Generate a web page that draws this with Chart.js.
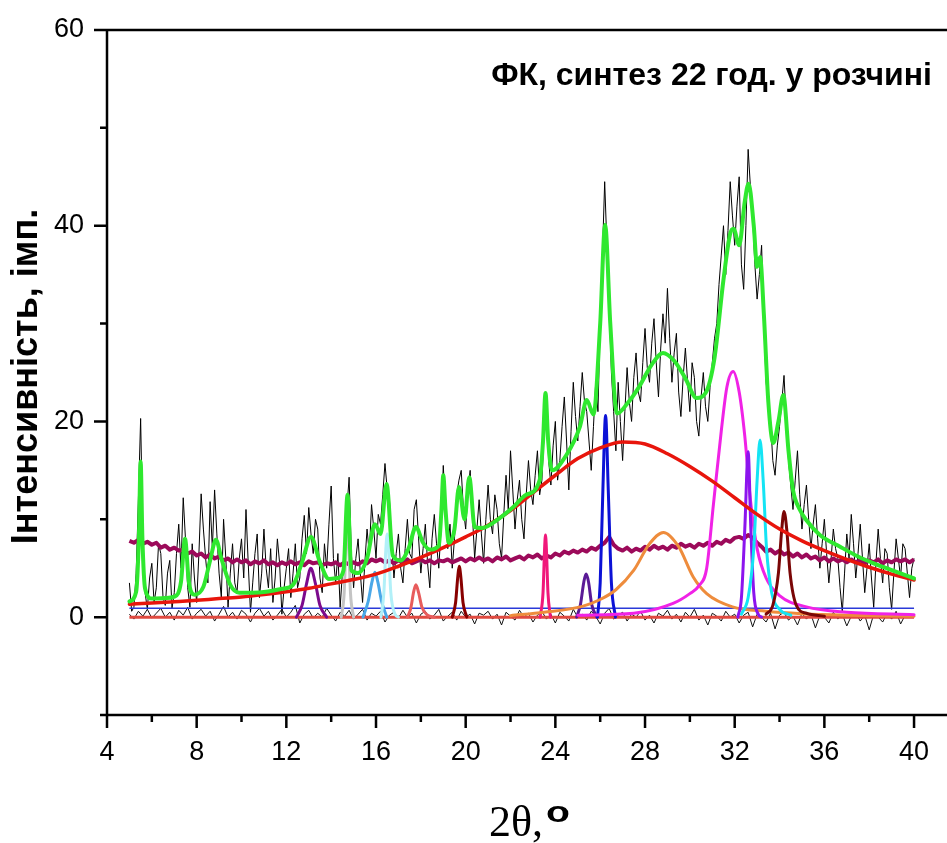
<!DOCTYPE html>
<html>
<head>
<meta charset="utf-8">
<title>ФК, синтез 22 год. у розчині</title>
<script src="https://cdn.jsdelivr.net/npm/chart.js@4.4.1/dist/chart.umd.min.js"></script>
<style>
  html, body { margin: 0; padding: 0; background: #fff; }
  #wrap { width: 947px; height: 843px; }
</style>
</head>
<body>
<div id="wrap"><canvas id="xrdChart" width="947" height="843"></canvas></div>
<script>
// axis ticks
const xTickValues = [4, 8, 12, 16, 20, 24, 28, 32, 36, 40];
const xMinorTicks = [6, 10, 14, 18, 22, 26, 30, 34, 38];
const yTickValues = [0, 20, 40, 60];
const yMinorTicks = [-10, 10, 30, 50];

// texts
const annotationText = 'ФК, синтез 22 год. у розчині';
const yTitle = 'Інтенсивність, імп.';
const xTitleMain = '2θ,';
const xTitleSup = 'o';

// measured pattern, 0.1° step
const rawFineAngles = [
  5.0, 5.1, 5.2, 5.3, 5.4, 5.5, 5.6, 5.7, 5.8, 5.9, 6.0, 6.1, 6.2, 6.3, 6.4, 6.5, 6.6, 6.7, 6.8, 6.9,
  7.0, 7.1, 7.2, 7.3, 7.4, 7.5, 7.6, 7.7, 7.8, 7.9, 8.0, 8.1, 8.2, 8.3, 8.4, 8.5, 8.6, 8.7, 8.8, 8.9,
  9.0, 9.1, 9.2, 9.3, 9.4, 9.5, 9.6, 9.7, 9.8, 9.9, 10.0, 10.1, 10.2, 10.3, 10.4, 10.5, 10.6, 10.7, 10.8, 10.9,
  11.0, 11.1, 11.2, 11.3, 11.4, 11.5, 11.6, 11.7, 11.8, 11.9, 12.0, 12.1, 12.2, 12.3, 12.4, 12.5, 12.6, 12.7, 12.8, 12.9,
  13.0, 13.1, 13.2, 13.3, 13.4, 13.5, 13.6, 13.7, 13.8, 13.9, 14.0, 14.1, 14.2, 14.3, 14.4, 14.5, 14.6, 14.7, 14.8, 14.9,
  15.0, 15.1, 15.2, 15.3, 15.4, 15.5, 15.6, 15.7, 15.8, 15.9, 16.0, 16.1, 16.2, 16.3, 16.4, 16.5, 16.6, 16.7, 16.8, 16.9,
  17.0, 17.1, 17.2, 17.3, 17.4, 17.5, 17.6, 17.7, 17.8, 17.9, 18.0, 18.1, 18.2, 18.3, 18.4, 18.5, 18.6, 18.7, 18.8, 18.9,
  19.0, 19.1, 19.2, 19.3, 19.4, 19.5, 19.6, 19.7, 19.8, 19.9, 20.0, 20.1, 20.2, 20.3, 20.4, 20.5, 20.6, 20.7, 20.8, 20.9,
  21.0, 21.1, 21.2, 21.3, 21.4, 21.5, 21.6, 21.7, 21.8, 21.9, 22.0, 22.1, 22.2, 22.3, 22.4, 22.5, 22.6, 22.7, 22.8, 22.9,
  23.0, 23.1, 23.2, 23.3, 23.4, 23.5, 23.6, 23.7, 23.8, 23.9, 24.0, 24.1, 24.2, 24.3, 24.4, 24.5, 24.6, 24.7, 24.8, 24.9,
  25.0, 25.1, 25.2, 25.3, 25.4, 25.5, 25.6, 25.7, 25.8, 25.9, 26.0, 26.1, 26.2, 26.3, 26.4, 26.5, 26.6, 26.7, 26.8, 26.9,
  27.0, 27.1, 27.2, 27.3, 27.4, 27.5, 27.6, 27.7, 27.8, 27.9, 28.0, 28.1, 28.2, 28.3, 28.4, 28.5, 28.6, 28.7, 28.8, 28.9,
  29.0, 29.1, 29.2, 29.3, 29.4, 29.5, 29.6, 29.7, 29.8, 29.9, 30.0, 30.1, 30.2, 30.3, 30.4, 30.5, 30.6, 30.7, 30.8, 30.9,
  31.0, 31.1, 31.2, 31.3, 31.4, 31.5, 31.6, 31.7, 31.8, 31.9, 32.0, 32.1, 32.2, 32.3, 32.4, 32.5, 32.6, 32.7, 32.8, 32.9,
  33.0, 33.1, 33.2, 33.3, 33.4, 33.5, 33.6, 33.7, 33.8, 33.9, 34.0, 34.1, 34.2, 34.3, 34.4, 34.5, 34.6, 34.7, 34.8, 34.9,
  35.0, 35.1, 35.2, 35.3, 35.4, 35.5, 35.6, 35.7, 35.8, 35.9, 36.0, 36.1, 36.2, 36.3, 36.4, 36.5, 36.6, 36.7, 36.8, 36.9,
  37.0, 37.1, 37.2, 37.3, 37.4, 37.5, 37.6, 37.7, 37.8, 37.9, 38.0, 38.1, 38.2, 38.3, 38.4, 38.5, 38.6, 38.7, 38.8, 38.9,
  39.0, 39.1, 39.2, 39.3, 39.4, 39.5, 39.6, 39.7, 39.8, 39.9, 40.0
];
const rawIntensity = [
  3.5, 0.6, 1.0, 4.5, 12.0, 20.3, 8.0, 2.5, 0.8, 4.0, 5.5, 1.5, 3.0, 7.5, 6.5, 2.0, 1.2, 4.5, 5.8, 0.9,
  2.5, 6.5, 9.5, 5.0, 12.2, 8.0, 3.0, 1.0, 7.5, 4.0, 1.5, 6.5, 12.6, 9.0, 6.0, 3.5, 11.8, 7.0, 13.0, 8.5,
  4.5, 2.0, 10.0, 6.0, 1.0, 4.5, 7.5, 3.5, 2.5, 6.0, 8.0, 4.0, 11.0, 5.5, 0.5, 3.5, 6.5, 8.5, 2.0, 4.5,
  9.0, 5.0, 3.0, 7.0, 1.5, 4.0, 8.0, 5.5, 0.3, 3.0, 5.0, 7.0, 2.0, 4.5, 7.5, 3.0, 4.0, 8.0, 10.4, 6.5,
  11.2, 8.5, 6.5, 10.0, 9.0, 4.0, 2.5, 7.5, 5.0, 9.5, 13.4, 6.0, 3.5, 6.5, 1.0, 4.5, 7.0, 11.0, 14.3, 6.5,
  3.0, 6.0, 8.0, 4.5, 1.5, 5.5, 9.0, 6.5, 11.5, 9.0, 6.0, 10.5, 9.5, 12.5, 15.7, 13.0, 12.0, 7.5, 4.0, 6.5,
  8.5, 5.0, 3.5, 7.0, 10.0, 6.5, 6.0, 11.0, 12.0, 8.0, 4.5, 7.0, 9.5, 5.5, 3.0, 8.0, 10.5, 7.5, 5.0, 9.0,
  15.5, 11.0, 7.0, 9.5, 5.0, 8.0, 12.5, 14.0, 15.0, 11.0, 9.0, 13.0, 15.0, 10.5, 6.0, 9.0, 12.0, 8.5, 5.5, 10.0,
  13.5, 10.0, 8.5, 12.5, 11.0, 7.5, 6.0, 10.5, 14.5, 11.0, 17.0, 13.0, 9.0, 12.0, 14.0, 10.0, 8.0, 12.5, 16.0, 13.0,
  11.5, 14.5, 17.0, 12.5, 14.0, 19.0, 22.5, 16.0, 13.5, 17.5, 20.0, 14.0, 16.0, 19.5, 22.5, 18.0, 13.0, 19.0, 24.0, 20.5,
  18.0, 21.5, 25.0, 22.0, 21.0, 18.0, 15.0, 19.5, 24.0, 21.0, 30.0, 37.0, 44.5, 38.0, 32.0, 25.0, 21.0, 17.0, 24.0, 20.0,
  16.0, 21.0, 25.5, 22.0, 20.0, 24.5, 27.0, 23.0, 22.0, 26.0, 29.5, 25.5, 24.0, 28.0, 30.5, 26.0, 22.5, 27.5, 31.0, 28.0,
  33.6, 28.5, 24.0, 27.0, 29.0, 23.0, 20.5, 24.5, 27.5, 24.0, 21.0, 26.0, 24.5, 20.0, 18.5, 22.5, 25.0, 21.5, 20.0, 23.5,
  26.0, 28.5, 30.0, 34.0, 37.0, 40.0, 35.0, 39.5, 44.5, 41.0, 38.0, 42.0, 45.0, 36.0, 33.5, 40.0, 47.8, 44.0, 41.0, 36.0,
  32.5, 35.0, 38.0, 30.0, 24.0, 22.0, 20.0, 16.0, 14.5, 17.5, 19.5, 22.0, 24.7, 20.0, 16.0, 13.5, 11.0, 14.0, 17.0, 12.5,
  9.0, 11.5, 13.5, 10.0, 7.0, 9.5, 11.5, 8.0, 5.0, 7.5, 10.0, 6.5, 3.5, 6.0, 9.0, 7.0, 6.0, 3.0, 0.5, 4.5,
  8.5, 6.0, 10.5, 7.5, 4.0, 6.5, 9.5, 6.0, 2.5, 5.0, 7.5, 4.0, 1.0, 5.5, 9.0, 6.0, 3.5, 7.0, 6.5, 3.0,
  0.8, 4.5, 8.0, 6.0, 4.0, 7.5, 7.0, 4.5, 2.0, 5.0, 6.0
];

// 0.2° grid for the background trace and the residual
const rawAngles = [
  5.0, 5.2, 5.4, 5.6, 5.8, 6.0, 6.2, 6.4, 6.6, 6.8,
  7.0, 7.2, 7.4, 7.6, 7.8, 8.0, 8.2, 8.4, 8.6, 8.8,
  9.0, 9.2, 9.4, 9.6, 9.8, 10.0, 10.2, 10.4, 10.6, 10.8,
  11.0, 11.2, 11.4, 11.6, 11.8, 12.0, 12.2, 12.4, 12.6, 12.8,
  13.0, 13.2, 13.4, 13.6, 13.8, 14.0, 14.2, 14.4, 14.6, 14.8,
  15.0, 15.2, 15.4, 15.6, 15.8, 16.0, 16.2, 16.4, 16.6, 16.8,
  17.0, 17.2, 17.4, 17.6, 17.8, 18.0, 18.2, 18.4, 18.6, 18.8,
  19.0, 19.2, 19.4, 19.6, 19.8, 20.0, 20.2, 20.4, 20.6, 20.8,
  21.0, 21.2, 21.4, 21.6, 21.8, 22.0, 22.2, 22.4, 22.6, 22.8,
  23.0, 23.2, 23.4, 23.6, 23.8, 24.0, 24.2, 24.4, 24.6, 24.8,
  25.0, 25.2, 25.4, 25.6, 25.8, 26.0, 26.2, 26.4, 26.6, 26.8,
  27.0, 27.2, 27.4, 27.6, 27.8, 28.0, 28.2, 28.4, 28.6, 28.8,
  29.0, 29.2, 29.4, 29.6, 29.8, 30.0, 30.2, 30.4, 30.6, 30.8,
  31.0, 31.2, 31.4, 31.6, 31.8, 32.0, 32.2, 32.4, 32.6, 32.8,
  33.0, 33.2, 33.4, 33.6, 33.8, 34.0, 34.2, 34.4, 34.6, 34.8,
  35.0, 35.2, 35.4, 35.6, 35.8, 36.0, 36.2, 36.4, 36.6, 36.8,
  37.0, 37.2, 37.4, 37.6, 37.8, 38.0, 38.2, 38.4, 38.6, 38.8,
  39.0, 39.2, 39.4, 39.6, 39.8, 40.0
];
// shifted background trace (maroon)
const backgroundTrace = [
  7.8, 7.6, 7.9, 7.5, 7.7, 7.4, 7.6, 7.1, 7.3, 6.9,
  7.1, 6.8, 6.9, 6.5, 6.7, 6.3, 6.5, 6.1, 6.4, 6.0,
  6.2, 5.8, 6.0, 5.6, 5.9, 5.6, 5.8, 5.4, 5.7, 5.5,
  5.8, 5.4, 5.6, 5.3, 5.6, 5.4, 5.7, 5.4, 5.6, 5.3,
  5.7, 5.5, 5.6, 5.3, 5.5, 5.4, 5.6, 5.3, 5.6, 5.4,
  5.6, 5.4, 5.7, 5.5, 5.9, 5.7, 5.9, 5.6, 5.8, 5.5,
  5.8, 5.6, 5.9, 5.5, 5.7, 5.9, 5.6, 5.8, 5.5, 5.8,
  5.7, 5.9, 5.6, 5.8, 6.0, 5.7, 6.0, 5.8, 6.1, 5.8,
  6.0, 5.7, 6.1, 5.9, 6.2, 5.8, 6.0, 6.2, 5.9, 6.3,
  6.1, 6.4, 6.0, 6.3, 6.1, 6.5, 6.3, 6.7, 6.5, 6.8,
  6.6, 6.9, 6.7, 7.1, 6.9, 7.3, 7.6, 8.2, 7.4, 7.0,
  6.8, 7.1, 6.7, 7.0, 6.8, 7.2, 6.9, 7.3, 7.0, 7.2,
  6.9, 7.3, 7.1, 7.5, 7.2, 7.4, 7.1, 7.5, 7.3, 7.6,
  7.3, 7.7, 7.5, 7.9, 7.7, 8.1, 8.2, 8.0, 8.4, 8.1,
  7.6, 7.2, 6.7, 6.9, 6.5, 6.8, 6.4, 6.6, 6.2, 6.5,
  6.1, 6.4, 6.0, 6.2, 5.8, 6.1, 5.7, 6.0, 5.7, 5.9,
  5.6, 5.9, 5.6, 5.8, 5.5, 5.8, 5.6, 5.9, 5.5, 5.8,
  5.6, 5.9, 5.7, 5.9, 5.6, 5.9
];
// fit residual
const residual = [
  0.3, -0.2, 0.6, 0.1, 0.8, -0.1, 0.4, 0.9, 0.0, 0.5,
  -0.3, 0.7, 0.2, 1.0, -0.2, 0.4, 0.8, 0.1, 0.6, -0.4,
  0.3, 1.1, 0.0, 0.5, -0.2, 0.7, 0.3, -0.5, 0.4, 0.9,
  0.1, 0.6, -0.3, 0.2, 0.8, 0.0, 0.5, 1.2, -0.6, 0.3,
  0.7, -0.1, 0.4, 0.0, 0.9, 0.2, -0.4, 0.5, 0.1, 0.7,
  -0.2, 0.3, 0.8, -0.3, 0.4, 0.1, 0.6, -0.5, 0.2, 0.5,
  -0.1, 0.7, 0.0, 0.4, -0.6, 0.3, 0.6, -0.2, 0.2, 0.8,
  -0.4, 0.1, 0.5, -0.3, 0.6, 0.0, 0.3, -0.7, 0.4, 0.2,
  0.6, -0.2, 0.3, -0.8, 0.5, 0.1, -0.3, 0.7, 0.0, 0.4,
  -0.5, 0.2, 0.6, -0.2, 0.3, -0.6, 0.5, 0.1, -0.4, 0.8,
  0.0, 0.3, -0.3, 0.6, 0.1, -0.7, 0.4, 0.9, -0.2, 0.2,
  0.5, -0.4, 0.3, 0.0, 0.6, -0.3, 0.2, -0.6, 0.4, 0.1,
  0.7, -0.2, 0.3, -0.5, 0.5, 0.0, 0.8, -0.3, 0.2, -0.8,
  0.4, 0.1, -0.4, 0.6, 0.0, 0.3, -0.6, 0.2, 0.5, -1.0,
  0.3, 0.0, -0.5, 0.4, -1.2, 0.2, 0.5, -0.3, 0.1, -0.8,
  0.4, -0.2, 0.3, -1.1, 0.2, 0.0, -0.6, 0.5, -0.2, 0.3,
  -0.9, 0.1, 0.4, -0.4, 0.2, -1.3, 0.3, 0.0, -0.5, 0.4,
  -0.2, 0.6, -0.7, 0.2, 0.0, 0.3
];

// cumulative fit (green)
const fitX = [5.0, 5.3, 5.42, 5.5, 5.58, 5.7, 6.0, 6.6, 7.0, 7.3, 7.48, 7.65, 7.9, 8.3, 8.6, 8.86, 9.1, 9.5, 9.9,
  10.5, 11.1, 11.8, 12.3, 12.7, 13.1, 13.5, 13.9, 14.3, 14.55, 14.73, 14.9, 15.2, 15.6, 15.95, 16.2, 16.47, 16.75,
  17.1, 17.45, 17.78, 18.1, 18.4, 18.8, 18.92, 19.0, 19.1, 19.25, 19.5, 19.7, 19.95, 20.16, 20.4, 20.7, 21.5, 22.1,
  22.7, 23.3, 23.45, 23.56, 23.68, 23.85, 24.5, 25.1, 25.4, 25.7, 26.0, 26.22, 26.45, 26.75, 27.2, 27.7, 28.3, 28.8,
  29.3, 29.8, 30.3, 30.7, 31.1, 31.5, 31.8, 31.95, 32.2, 32.45, 32.62, 32.85, 33.0, 33.13, 33.3, 33.5, 33.72, 33.95,
  34.17, 34.4, 34.6, 34.9, 35.2, 35.8, 36.7, 37.5, 38.2, 39.0, 40.0];
const fitY = [1.6, 2.6, 8.0, 15.9, 8.0, 2.9, 1.9, 1.95, 2.1, 3.6, 8.0, 3.6, 2.3, 3.1, 5.8, 7.9, 6.0, 3.3, 2.5,
  2.5, 2.6, 2.9, 3.3, 5.6, 8.2, 5.6, 3.9, 4.0, 4.8, 12.5, 4.8, 4.5, 6.0, 9.5, 8.5, 13.6, 6.3,
  5.8, 7.0, 9.2, 7.6, 6.9, 7.3, 11.0, 14.5, 11.0, 7.6, 9.0, 13.3, 10.0, 14.3, 9.2, 9.1, 10.1, 11.2,
  12.5, 14.0, 18.0, 22.9, 18.0, 15.0, 16.6, 19.5, 22.2, 20.7, 30.0, 40.1, 30.0, 20.8, 21.8, 23.4, 25.8, 27.0,
  26.2, 24.4, 22.4, 22.9, 26.5, 34.5, 39.2, 39.7, 38.0, 42.5, 44.3, 40.0, 35.8, 36.8, 31.0, 22.0, 17.8, 20.0,
  22.7, 17.0, 13.0, 11.0, 9.9, 8.4, 7.2, 6.2, 5.5, 4.8, 3.95];

// amorphous hump (red)
const broadX = [5, 6, 7, 8, 9, 10, 11, 12, 13, 14, 15, 16, 17, 18, 19, 20, 21, 22,
  23, 24, 25, 26, 27, 28, 29, 30, 31, 32, 33, 34, 35, 36, 37, 38, 39, 40];
const broadY = [1.33, 1.45, 1.58, 1.72, 1.9, 2.05, 2.3, 2.6, 2.95, 3.4, 3.85, 4.4, 5.2, 6.1, 7.1, 8.2, 9.4, 10.9,
  12.7, 14.5, 16.2, 17.3, 17.9, 17.7, 16.7, 15.4, 13.9, 12.2, 10.5, 9.0, 7.8, 6.8, 5.9, 5.1, 4.4, 3.8];

// base lines
const baseLineX = [5, 40];
const baseLineY = [0.9, 0.9];
const zeroLineY = [0, 0];

// fitted peaks
const purpleX = [12.45, 12.7, 12.9, 13.09, 13.3, 13.5, 13.8];
const purpleY = [0, 1.2, 3.4, 5.0, 3.4, 1.2, 0];
const grayX = [14.45, 14.58, 14.66, 14.72, 14.78, 14.86, 15.0];
const grayY = [0, 2.5, 7.5, 9.8, 7.5, 2.5, 0];
const skyX = [15.42, 15.65, 15.82, 15.95, 16.08, 16.25, 16.48];
const skyY = [0, 1.6, 3.6, 4.6, 3.6, 1.6, 0];
const paleCyanX = [16.22, 16.35, 16.44, 16.5, 16.56, 16.66, 16.85, 17.0];
const paleCyanY = [0, 2.5, 7.0, 8.5, 7.0, 2.5, 0.3, 0];
const salmonX = [17.4, 17.55, 17.68, 17.78, 17.9, 18.05, 18.3, 18.6];
const salmonY = [0, 0.9, 2.6, 3.3, 2.5, 1.0, 0.2, 0];
const darkRedAX = [19.4, 19.55, 19.65, 19.71, 19.78, 19.88, 20.05];
const darkRedAY = [0, 1.5, 4.2, 5.2, 4.2, 1.5, 0];
const pinkX = [23.32, 23.45, 23.52, 23.56, 23.6, 23.67, 23.78];
const pinkY = [0, 2.5, 7.0, 8.4, 7.0, 2.5, 0];
const indigoX = [24.95, 25.12, 25.27, 25.37, 25.48, 25.62, 25.85];
const indigoY = [0, 1.3, 3.6, 4.4, 3.6, 1.3, 0];
const blueX = [25.88, 26.0, 26.12, 26.24, 26.36, 26.5, 26.68];
const blueY = [0, 3.5, 13.0, 20.6, 13.0, 3.5, 0];
const orangeX = [22, 23.5, 25.2, 26.0, 26.7, 27.5, 28.2, 28.82, 29.5, 30.15, 30.75, 31.9, 33.4, 35, 37, 40];
const orangeY = [0.15, 0.5, 1.1, 1.8, 2.8, 4.8, 7.5, 8.66, 7.2, 4.1, 2.4, 1.05, 0.6, 0.35, 0.2, 0.1];
const magentaX = [25, 27.5, 29.25, 30.0, 30.4, 30.75, 31.05, 31.4, 31.65, 31.93, 32.2, 32.45, 32.7, 33.0, 33.4, 34.0, 35.2, 37, 40];
const magentaY = [0.2, 0.4, 1.4, 2.4, 3.2, 5.0, 11.5, 19.0, 23.5, 25.1, 23.0, 18.5, 12.0, 7.0, 4.0, 2.2, 1.05, 0.5, 0.25];
const violetX = [32.14, 32.3, 32.45, 32.6, 32.72, 32.85, 33.05, 33.2];
const violetY = [0, 2.0, 9.0, 16.9, 9.0, 2.5, 0.3, 0];
const cyanX = [32.3, 32.6, 32.85, 33.0, 33.13, 33.27, 33.42, 33.65, 34.0, 34.5];
const cyanY = [0.3, 2.0, 7.0, 14.0, 18.1, 14.0, 7.0, 2.5, 0.8, 0.2];
const darkRedBX = [33.4, 33.7, 33.95, 34.1, 34.2, 34.32, 34.47, 34.75, 35.2, 36];
const darkRedBY = [0.3, 1.2, 4.5, 9.0, 10.8, 9.0, 4.5, 1.2, 0.4, 0.1];

const pts = (xs, ys) => xs.map((x, i) => ({ x: x, y: ys[i] }));

function smooth(xs, ys, color, width) {
  return {
    data: pts(xs, ys),
    borderColor: color,
    borderWidth: width,
    pointRadius: 0,
    cubicInterpolationMode: 'monotone',
    borderJoinStyle: 'round',
    borderCapStyle: 'round',
    fill: false
  };
}
function jagged(xs, ys, color, width) {
  return {
    data: pts(xs, ys),
    borderColor: color,
    borderWidth: width,
    pointRadius: 0,
    tension: 0,
    borderJoinStyle: 'round',
    fill: false
  };
}

// axis frame, minor ticks and titles
const frame = {
  id: 'frame',
  afterDatasetsDraw(chart) {
    const ctx = chart.ctx;
    const a = chart.chartArea;
    const sx = chart.scales.x;
    const sy = chart.scales.y;
    ctx.save();
    ctx.strokeStyle = '#000';
    ctx.lineWidth = 2.5;
    ctx.lineCap = 'butt';
    ctx.beginPath();
    ctx.moveTo(a.left, a.top); ctx.lineTo(a.right, a.top);
    ctx.moveTo(a.left, a.top - 1.2); ctx.lineTo(a.left, a.bottom + 1.2);
    ctx.moveTo(a.left, a.bottom); ctx.lineTo(a.right, a.bottom);
    yTickValues.forEach(v => {
      const py = sy.getPixelForValue(v);
      ctx.moveTo(a.left - 13, py); ctx.lineTo(a.left, py);
    });
    yMinorTicks.forEach(v => {
      const py = sy.getPixelForValue(v);
      ctx.moveTo(a.left - 7, py); ctx.lineTo(a.left, py);
    });
    xTickValues.forEach(v => {
      const px = sx.getPixelForValue(v);
      ctx.moveTo(px, a.bottom); ctx.lineTo(px, a.bottom + 13);
    });
    xMinorTicks.forEach(v => {
      const px = sx.getPixelForValue(v);
      ctx.moveTo(px, a.bottom); ctx.lineTo(px, a.bottom + 7);
    });
    ctx.stroke();

    ctx.fillStyle = '#000';
    ctx.font = 'bold 32px "Liberation Sans", Arial, sans-serif';
    ctx.textAlign = 'right';
    ctx.textBaseline = 'alphabetic';
    ctx.fillText(annotationText, 932, 85);

    ctx.save();
    ctx.translate(27, (a.top + a.bottom) / 2 + 4);
    ctx.rotate(-Math.PI / 2);
    ctx.font = 'bold 36px "Liberation Sans", Arial, sans-serif';
    ctx.textAlign = 'center';
    ctx.textBaseline = 'middle';
    ctx.fillText(yTitle, 0, 0);
    ctx.restore();

    ctx.font = '44px "Liberation Serif", "Times New Roman", serif';
    ctx.textAlign = 'left';
    ctx.textBaseline = 'alphabetic';
    ctx.fillText(xTitleMain, 489, 836);
    const w = ctx.measureText(xTitleMain).width;
    ctx.save();
    ctx.translate(489 + w + 3, 822);
    ctx.scale(1.35, 1);
    ctx.font = 'bold 29px "Liberation Sans", Arial, sans-serif';
    ctx.fillText(xTitleSup, 0, 0);
    ctx.restore();
    ctx.restore();
  }
};

const ctx = document.getElementById('xrdChart').getContext('2d');
new Chart(ctx, {
  type: 'line',
  data: {
    datasets: [
      smooth(fitX, fitY, '#2fe82f', 4),
      smooth(broadX, broadY, '#e8150c', 3.5),
      smooth(darkRedBX, darkRedBY, '#7a0606', 3),
      smooth(cyanX, cyanY, '#14e4f4', 3),
      smooth(violetX, violetY, '#8c14ee', 3),
      smooth(magentaX, magentaY, '#f022e6', 3),
      smooth(orangeX, orangeY, '#ee8c3c', 3),
      smooth(blueX, blueY, '#0c12d6', 3),
      smooth(indigoX, indigoY, '#5a1a96', 3),
      smooth(pinkX, pinkY, '#f0187a', 3),
      smooth(darkRedAX, darkRedAY, '#880000', 3),
      smooth(salmonX, salmonY, '#e85c5c', 3),
      smooth(paleCyanX, paleCyanY, '#b2f0f8', 3),
      smooth(skyX, skyY, '#4aa8e8', 3),
      smooth(grayX, grayY, '#c4c4c4', 3),
      smooth(purpleX, purpleY, '#7c0a8c', 3),
      jagged(rawAngles, backgroundTrace, '#9c0a5a', 4),
      jagged(baseLineX, zeroLineY, '#e04a40', 3),
      jagged(baseLineX, baseLineY, '#2a3ad8', 1.5),
      jagged(rawAngles, residual, '#111', 1),
      jagged(rawFineAngles, rawIntensity, '#000', 1)
    ]
  },
  options: {
    responsive: false,
    animation: false,
    devicePixelRatio: 1,
    layout: { padding: { top: 30, right: 0, bottom: 0, left: 0 } },
    plugins: { legend: { display: false }, tooltip: { enabled: false } },
    scales: {
      x: {
        type: 'linear',
        min: 4,
        max: 41.47,
        grid: { display: false, drawTicks: false },
        border: { display: false },
        afterBuildTicks: s => { s.ticks = xTickValues.map(v => ({ value: v })); },
        afterFit: s => { s.height = 128; s.paddingRight = 0; },
        ticks: {
          autoSkip: false,
          maxRotation: 0,
          padding: 21,
          color: '#000',
          font: { family: '"Liberation Sans", Arial, sans-serif', size: 27 }
        }
      },
      y: {
        min: -10,
        max: 60,
        grid: { display: false, drawTicks: false },
        border: { display: false },
        afterBuildTicks: s => { s.ticks = yTickValues.map(v => ({ value: v })); },
        afterFit: s => { s.width = 107; s.paddingTop = 0; s.paddingBottom = 0; },
        ticks: {
          padding: 23,
          color: '#000',
          font: { family: '"Liberation Sans", Arial, sans-serif', size: 27 }
        }
      }
    }
  },
  plugins: [frame]
});
</script>
</body>
</html>
